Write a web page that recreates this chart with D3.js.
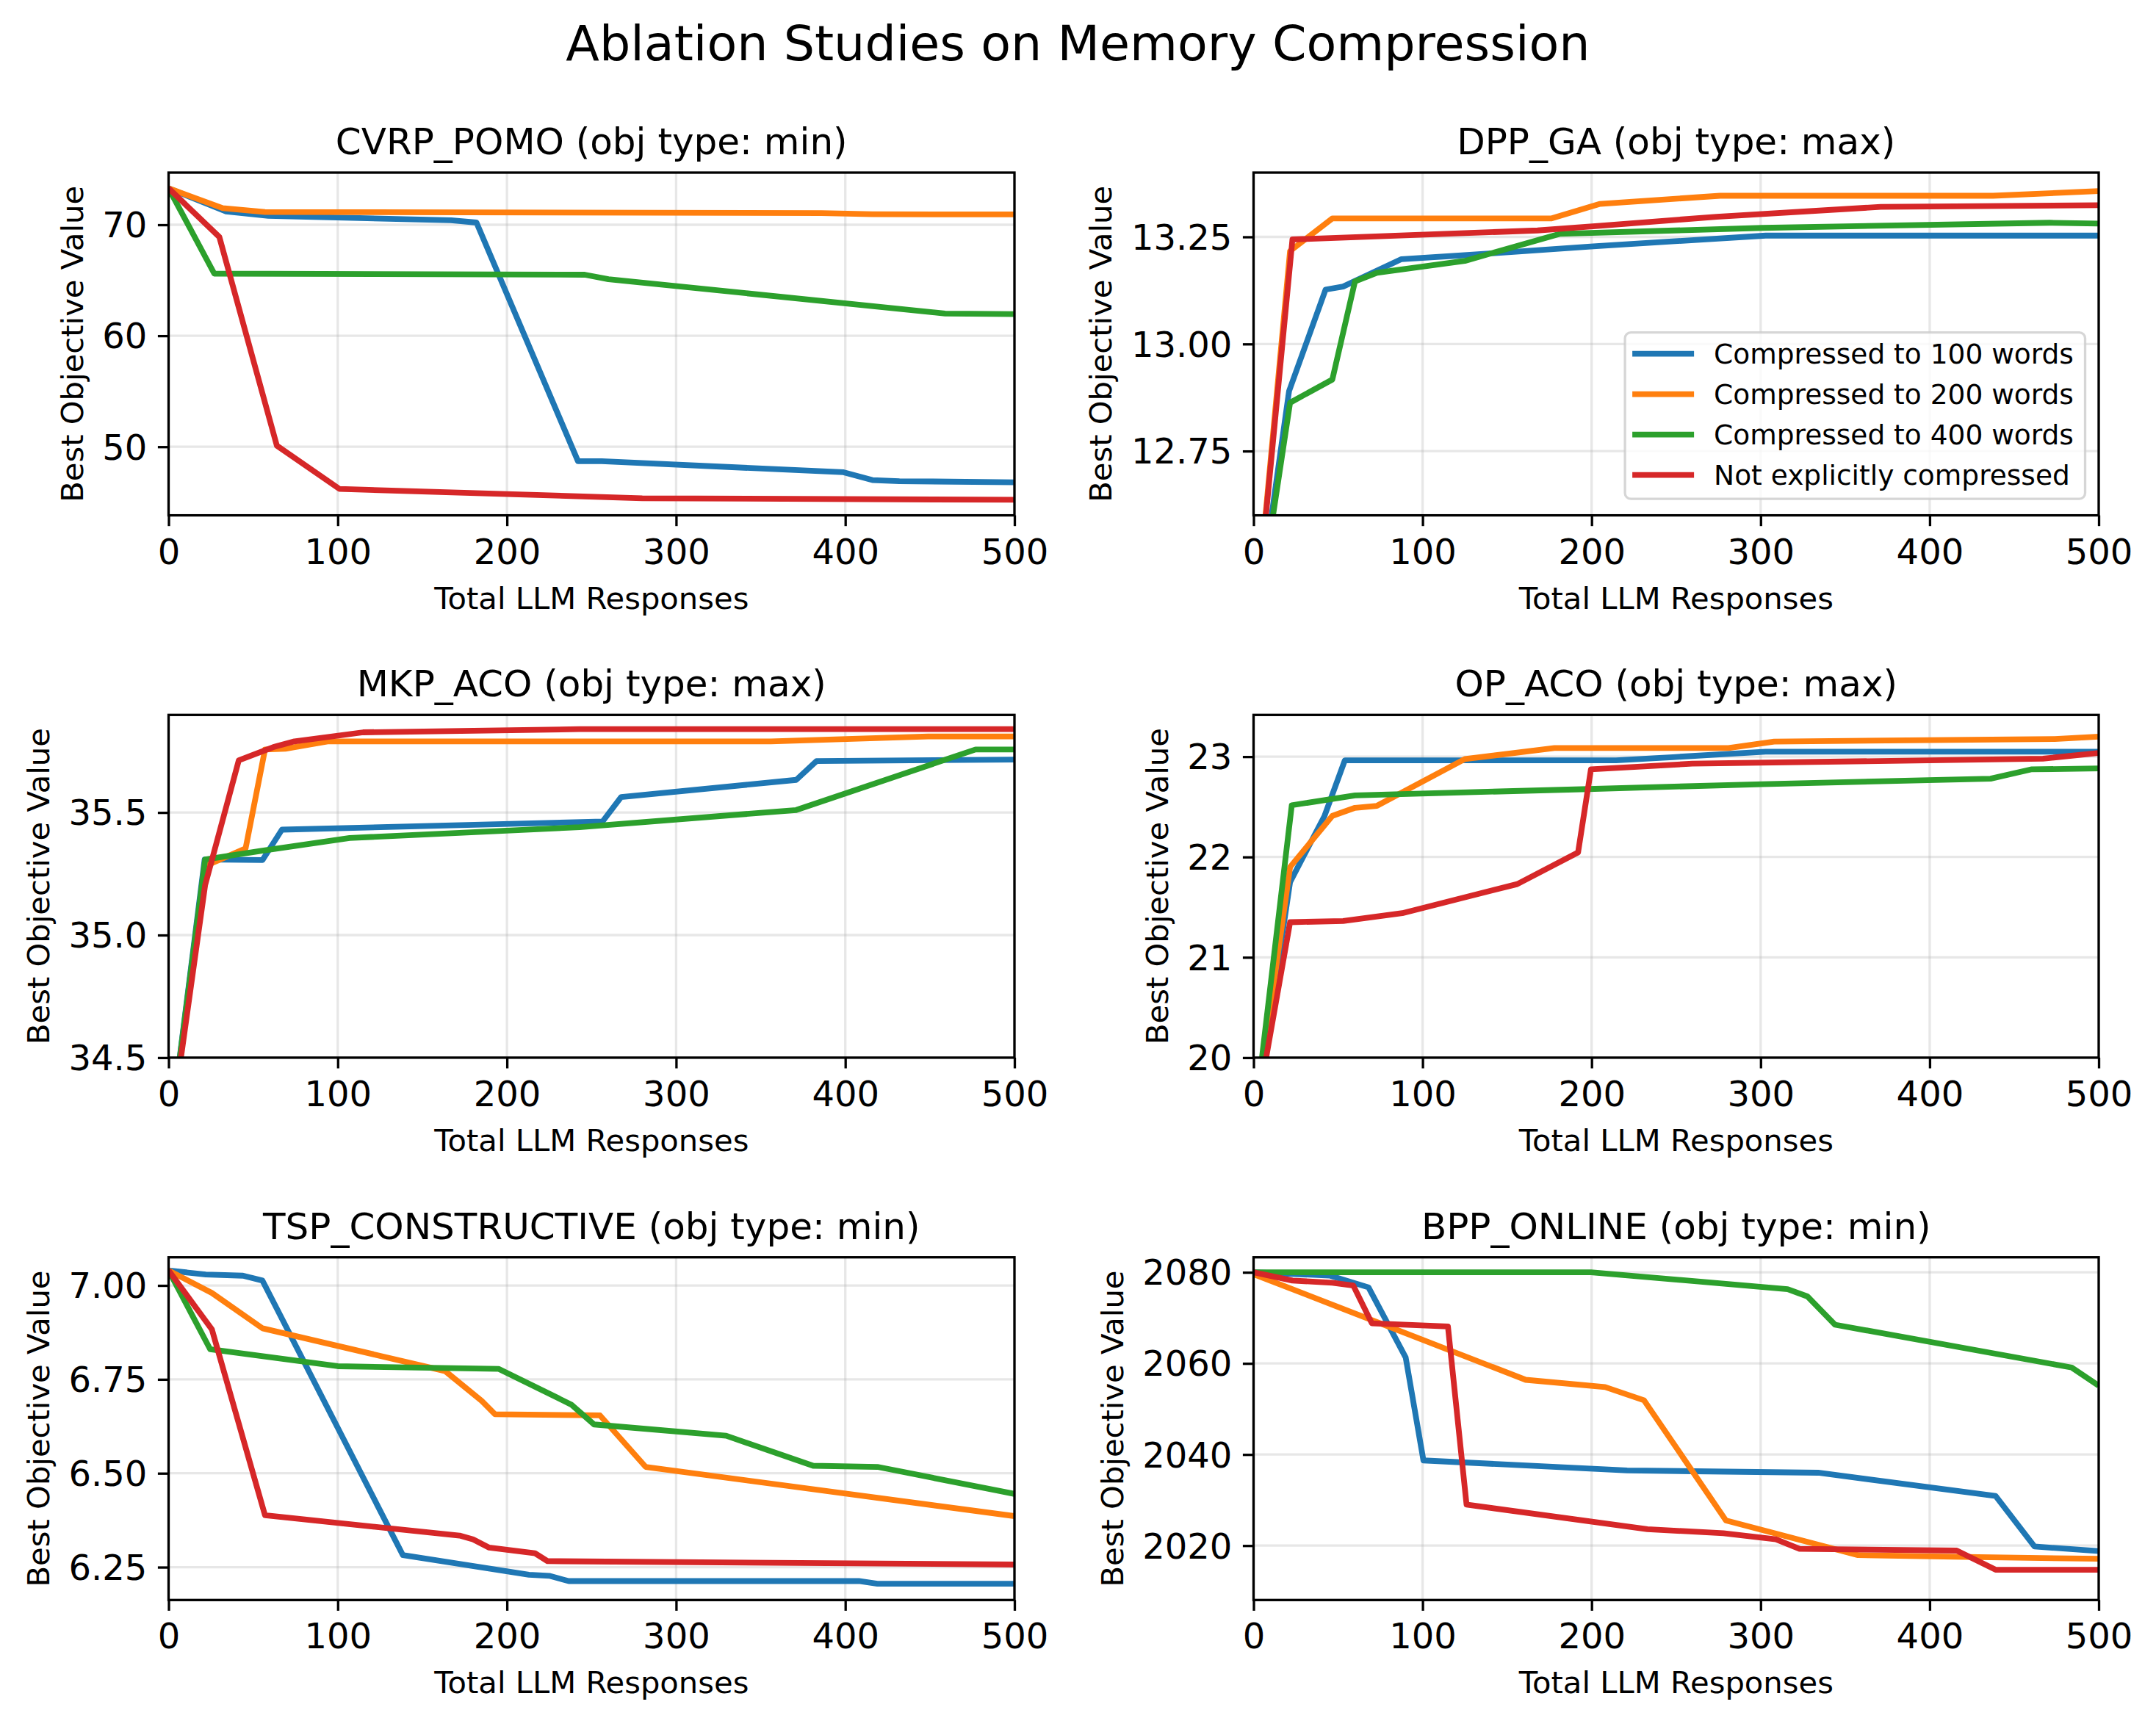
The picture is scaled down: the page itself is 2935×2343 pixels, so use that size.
<!DOCTYPE html>
<html lang="en">
<head>
<meta charset="utf-8">
<title>Ablation Studies on Memory Compression</title>
<script src="https://cdnjs.cloudflare.com/ajax/libs/d3/7.8.5/d3.min.js"></script>
<style>
    body { margin: 0; background: #fff; }
    text { font-family: "DejaVu Sans", sans-serif; fill: #000; }
</style>
</head>
<body>
<div id="plot"></div>
<script>
// legend names and the tab10 colours
var seriesNames = ["Compressed to 100 words", "Compressed to 200 words", "Compressed to 400 words", "Not explicitly compressed"];
var seriesColors = ["#1f77b4", "#ff7f0e", "#2ca02c", "#d62728"];
var xTicks = [0, 100, 200, 300, 400, 500];

// CVRP_POMO
var cvrp100 = [[0,73.29],[34,71.2],[59,70.8],[167,70.4],[182,70.2],[242,48.7],[256,48.7],[399,47.7],[416,47.0],[432,46.9],[500,46.8]];
var cvrp200 = [[0,73.29],[32,71.5],[57,71.15],[386,71.05],[416,70.95],[500,70.93]];
var cvrp400 = [[0,73.29],[27,65.6],[246,65.5],[260,65.1],[459,62.0],[500,61.95]];
var cvrpNone = [[0,73.29],[30,68.9],[64,50.1],[101,46.2],[280,45.36],[500,45.22]];

// DPP_GA
var dpp100 = [[0,12.3],[21,12.89],[42.6,13.127],[53,13.134],[87.5,13.198],[128,13.208],[201,13.228],[303,13.253],[500,13.253]];
var dpp200 = [[0,12.3],[21.6,13.217],[46.6,13.293],[176,13.293],[205,13.327],[276,13.346],[437.5,13.346],[500,13.357]];
var dpp400 = [[0,12.3],[21.6,12.863],[46.6,12.917],[60,13.146],[73,13.166],[125,13.194],[181,13.257],[301,13.271],[471,13.283],[500,13.281]];
var dppNone = [[0,12.3],[23,13.244],[168,13.265],[205,13.276],[274,13.297],[371,13.32],[500,13.324]];

// MKP_ACO
var mkp100 = [[0,34.14],[21.3,35.308],[55.5,35.306],[67,35.43],[256.5,35.463],[267.5,35.563],[371,35.633],[383,35.71],[500,35.716]];
var mkp200 = [[0,34.14],[22,35.283],[45.5,35.353],[57,35.757],[69,35.76],[94,35.79],[356,35.79],[449,35.81],[500,35.81]];
var mkp400 = [[0,34.14],[21.6,35.308],[54,35.343],[107,35.396],[243,35.44],[371,35.51],[477,35.757],[500,35.757]];
var mkpNone = [[0,34.14],[21.6,35.204],[41.5,35.713],[62,35.767],[74.4,35.79],[115,35.827],[243,35.84],[500,35.84]];

// OP_ACO
var op100 = [[0,19.29],[21.6,21.75],[42,22.41],[54,22.963],[214.5,22.963],[248,22.995],[303,23.05],[500,23.05]];
var op200 = [[0,19.29],[21.6,21.9],[46.6,22.41],[60,22.49],[73,22.51],[125,22.976],[178,23.086],[281,23.086],[308,23.15],[474,23.176],[500,23.2]];
var op400 = [[0,19.29],[22.6,22.516],[60,22.614],[198,22.677],[301,22.726],[436,22.78],[460,22.873],[500,22.883]];
var opNone = [[0,19.29],[21.6,21.35],[53,21.362],[88,21.44],[156,21.73],[192,22.046],[199.6,22.873],[259.5,22.93],[467,22.98],[500,23.037]];

// TSP_CONSTRUCTIVE
var tsp100 = [[0,7.04],[22,7.029],[44,7.026],[55.5,7.013],[138.5,6.282],[213,6.23],[225,6.227],[236.5,6.213],[408,6.213],[419,6.206],[500,6.206]];
var tsp200 = [[0,7.04],[25.6,6.98],[55.5,6.886],[163.5,6.772],[185,6.693],[193,6.657],[255,6.654],[282,6.517],[500,6.386]];
var tsp400 = [[0,7.04],[24.6,6.83],[100,6.785],[195,6.778],[238,6.683],[251.5,6.63],[329.6,6.6],[381,6.52],[419,6.517],[500,6.445]];
var tspNone = [[0,7.04],[25.6,6.883],[57,6.388],[172,6.334],[180,6.324],[189.5,6.302],[216.6,6.287],[224,6.266],[500,6.257]];

// BPP_ONLINE
var bpp100 = [[0,2080],[45,2079.3],[68,2076.7],[90,2061.3],[100.5,2038.7],[221,2036.5],[334,2036],[439,2030.9],[462,2019.8],[500,2018.8]];
var bpp200 = [[0,2079.6],[161,2056.4],[208,2054.8],[231,2051.9],[279.5,2025.5],[357.6,2017.9],[421,2017.5],[500,2017.1]];
var bpp400 = [[0,2080],[199.6,2080],[316,2076.3],[327.7,2074.7],[344,2068.5],[484,2059.1],[500,2055.1]];
var bppNone = [[0,2080],[23,2078.2],[46.6,2077.7],[59,2077.1],[70,2068.8],[115,2068.1],[126,2029],[233,2023.6],[278,2022.7],[309,2021.4],[323,2019.3],[416,2018.9],[439,2014.7],[500,2014.7]];

var panelTitles = ["CVRP_POMO (obj type: min)", "DPP_GA (obj type: max)", "MKP_ACO (obj type: max)",
                   "OP_ACO (obj type: max)", "TSP_CONSTRUCTIVE (obj type: min)", "BPP_ONLINE (obj type: min)"];
var panelSeries = [[cvrp100, cvrp200, cvrp400, cvrpNone], [dpp100, dpp200, dpp400, dppNone],
                   [mkp100, mkp200, mkp400, mkpNone], [op100, op200, op400, opNone],
                   [tsp100, tsp200, tsp400, tspNone], [bpp100, bpp200, bpp400, bppNone]];
var yDomains = [[43.82, 74.70], [12.6, 13.4], [34.5, 35.898], [20, 23.416], [6.1625, 7.075], [2008.05, 2083.3]];
var yTicks = [[50, 60, 70], [12.75, 13.0, 13.25], [34.5, 35.0, 35.5], [20, 21, 22, 23], [6.25, 6.5, 6.75, 7.0], [2020, 2040, 2060, 2080]];
var yFormats = ["d", ".2f", ".1f", "d", ".2f", "d"];

//size of the page and the grid of axes
var width = 2935;
var height = 2343;
var colX = [229.5, 1706.5];
var colW = [1151.5, 1150.5];
var rowY = [235, 973.3, 1711.7];
var rowH = 466.6;
var lw = 3.3;           // 0.8pt at 300 dpi

var svg = d3.select("#plot")
    .append("svg")
    .attr("width", width)
    .attr("height", height);

svg.append("rect").attr("width", width).attr("height", height).attr("fill", "#fff");

// main title
svg.append("text")
    .attr("x", width / 2)
    .attr("y", 81.7)
    .attr("text-anchor", "middle")
    .style("font-size", "66.7px")
    .text("Ablation Studies on Memory Compression");

panelTitles.forEach(function(title, i) {
    var col = i % 2, row = Math.floor(i / 2);
    var w = colW[col], h = rowH;

    var xScale = d3.scaleLinear().domain([0, 500]).range([0, w]);
    var yScale = d3.scaleLinear().domain(yDomains[i]).range([h, 0]);

    var g = svg.append("g")
        .attr("transform", "translate(" + colX[col] + "," + rowY[row] + ")");

    g.append("clipPath").attr("id", "clip" + i)
        .append("rect").attr("width", w).attr("height", h);

    // grid
    g.selectAll(".gx").data(xTicks).enter().append("line")
        .attr("x1", function(d) { return xScale(d); })
        .attr("x2", function(d) { return xScale(d); })
        .attr("y1", 0).attr("y2", h)
        .attr("stroke", "#b0b0b0").attr("stroke-opacity", 0.3).attr("stroke-width", lw);
    g.selectAll(".gy").data(yTicks[i]).enter().append("line")
        .attr("x1", 0).attr("x2", w)
        .attr("y1", function(d) { return yScale(d); })
        .attr("y2", function(d) { return yScale(d); })
        .attr("stroke", "#b0b0b0").attr("stroke-opacity", 0.3).attr("stroke-width", lw);

    // the four lines
    var line = d3.line()
        .x(function(d) { return xScale(d[0]); })
        .y(function(d) { return yScale(d[1]); });
    panelSeries[i].forEach(function(s, k) {
        g.append("path")
            .datum(s)
            .attr("clip-path", "url(#clip" + i + ")")
            .attr("fill", "none")
            .attr("stroke", seriesColors[k])
            .attr("stroke-width", 7.8)
            .attr("stroke-linejoin", "round")
            .attr("d", line);
    });

    // axes
    var xAxis = g.append("g")
        .attr("transform", "translate(0," + h + ")")
        .call(d3.axisBottom(xScale).tickValues(xTicks).tickSize(14.6).tickPadding(17.4).tickSizeOuter(0));
    var yAxis = g.append("g")
        .call(d3.axisLeft(yScale).tickValues(yTicks[i]).tickFormat(d3.format(yFormats[i]))
              .tickSize(14.6).tickPadding(14.6).tickSizeOuter(0));
    [xAxis, yAxis].forEach(function(a) {
        a.select(".domain").remove();
        a.selectAll(".tick line").attr("stroke", "#000").attr("stroke-width", lw);
        a.selectAll(".tick text").style("font-size", "48px").attr("font-family", "DejaVu Sans");
    });
    yAxis.selectAll(".tick text").attr("dy", "0.35em");

    // spines
    g.append("rect")
        .attr("width", w).attr("height", h)
        .attr("fill", "none").attr("stroke", "#000").attr("stroke-width", lw);

    // title and axis labels
    g.append("text")
        .attr("x", w / 2).attr("y", -25)
        .attr("text-anchor", "middle")
        .style("font-size", "50px")
        .text(title);
    g.append("text")
        .attr("x", w / 2).attr("y", h + 127)
        .attr("text-anchor", "middle")
        .style("font-size", "41.7px")
        .text("Total LLM Responses");
    var left = yAxis.node().getBBox().x;
    g.append("text")
        .attr("transform", "translate(" + (left - 26.5) + "," + (h / 2) + ") rotate(-90)")
        .attr("text-anchor", "middle")
        .style("font-size", "41.7px")
        .text("Best Objective Value");

    // legend only in the DPP_GA panel
    if (i === 1) {
        var fs = 37.5;
        var leg = g.append("g");
        var box = leg.append("rect")
            .attr("fill", "#fff").attr("fill-opacity", 0.8)
            .attr("stroke", "#cccccc").attr("stroke-opacity", 0.8).attr("stroke-width", lw)
            .attr("rx", 8).attr("ry", 8);
        var items = leg.selectAll(".item").data(seriesNames).enter().append("g")
            .attr("transform", function(d, k) { return "translate(0," + (29 + k * 55) + ")"; });
        items.append("line")
            .attr("x1", 10).attr("x2", 94)
            .attr("stroke", function(d, k) { return seriesColors[k]; })
            .attr("stroke-width", 7.8);
        var texts = items.append("text")
            .attr("x", 121).attr("dy", "0.35em")
            .style("font-size", fs + "px")
            .text(function(d) { return d; });
        var tw = d3.max(texts.nodes(), function(n) { return n.getComputedTextLength(); });
        var bw = 121 + tw + 15.6, bh = 226.6;
        box.attr("width", bw).attr("height", bh);
        leg.attr("transform", "translate(" + (w - 18.5 - bw) + "," + (h - 22.4 - bh) + ")");
    }
});
</script>
</body>
</html>
